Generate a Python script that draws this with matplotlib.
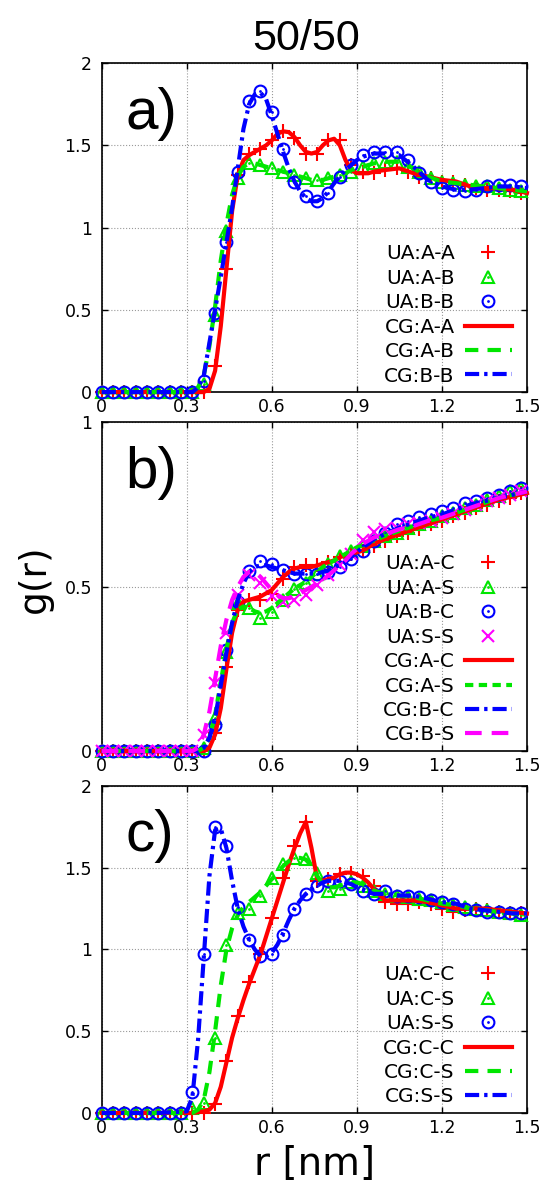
import matplotlib
matplotlib.use('Agg')
import matplotlib.pyplot as plt
from matplotlib.ticker import FuncFormatter, MultipleLocator
from matplotlib.legend_handler import HandlerTuple

plt.rcParams['font.family'] = ['DejaVu Sans']

# sampling of the UA (atomistic) data and of the CG curves
r_ua = [0.00, 0.04, 0.08, 0.12, 0.16, 0.20, 0.24, 0.28, 0.32, 0.36, 0.40, 0.44, 0.48,
        0.52, 0.56, 0.60, 0.64, 0.68, 0.72, 0.76, 0.80, 0.84, 0.88, 0.92, 0.96, 1.00,
        1.04, 1.08, 1.12, 1.16, 1.20, 1.24, 1.28, 1.32, 1.36, 1.40, 1.44, 1.48]
r_cg = [0.00, 0.10, 0.20, 0.30,
        0.32, 0.34, 0.36, 0.38, 0.40, 0.42, 0.44, 0.46, 0.48, 0.50, 0.52, 0.54, 0.56,
        0.58, 0.60, 0.62, 0.64, 0.66, 0.68, 0.70, 0.72, 0.74, 0.76, 0.78, 0.80, 0.82,
        0.84, 0.86, 0.88, 0.90, 0.92, 0.94, 0.96,
        1.00, 1.05, 1.10, 1.15, 1.20, 1.25, 1.30, 1.35, 1.40, 1.45, 1.50]

# panel a)
ua_aa = [0, 0, 0, 0, 0, 0, 0, 0, 0,
         0.00, 0.16, 0.75, 1.32, 1.45, 1.48, 1.53, 1.585, 1.545, 1.45, 1.45, 1.53, 1.535,
         1.38, 1.34, 1.33, 1.35, 1.36, 1.34, 1.31, 1.30, 1.28, 1.28, 1.26, 1.24, 1.23,
         1.23, 1.22, 1.21]
ua_ab = [0, 0, 0, 0, 0, 0, 0, 0, 0,
         0.05, 0.47, 0.98, 1.30, 1.39, 1.38, 1.36, 1.34, 1.32, 1.30, 1.29, 1.30, 1.32,
         1.34, 1.37, 1.39, 1.40, 1.40, 1.37, 1.34, 1.30, 1.28, 1.27, 1.26, 1.25, 1.25,
         1.24, 1.23, 1.22]
ua_bb = [0, 0, 0, 0, 0, 0, 0, 0, 0,
         0.07, 0.48, 0.91, 1.34, 1.77, 1.83, 1.70, 1.48, 1.28, 1.19, 1.16, 1.21, 1.31,
         1.38, 1.44, 1.46, 1.46, 1.46, 1.41, 1.33, 1.28, 1.24, 1.23, 1.22, 1.23, 1.25,
         1.26, 1.26, 1.25]
cg_aa = [0, 0, 0, 0,
         0.00, 0.00, 0.00, 0.02, 0.13, 0.40, 0.75, 1.10, 1.32, 1.41, 1.44, 1.46, 1.48,
         1.50, 1.53, 1.57, 1.585, 1.58, 1.55, 1.50, 1.46, 1.45, 1.46, 1.50, 1.53, 1.54,
         1.50, 1.41, 1.35, 1.33, 1.33, 1.33, 1.34,
         1.35, 1.36, 1.33, 1.31, 1.29, 1.28, 1.25, 1.24, 1.24, 1.23, 1.21]
cg_ab = [0, 0, 0, 0,
         0.00, 0.03, 0.10, 0.28, 0.52, 0.80, 1.02, 1.20, 1.31, 1.37, 1.39, 1.39, 1.38,
         1.37, 1.36, 1.35, 1.34, 1.33, 1.32, 1.31, 1.30, 1.29, 1.29, 1.29, 1.30, 1.31,
         1.32, 1.33, 1.35, 1.36, 1.37, 1.38, 1.39,
         1.40, 1.40, 1.36, 1.31, 1.28, 1.27, 1.26, 1.25, 1.24, 1.23, 1.22]
cg_bb = [0, 0, 0, 0,
         0.00, 0.03, 0.10, 0.30, 0.50, 0.70, 0.91, 1.12, 1.36, 1.60, 1.75, 1.81, 1.82,
         1.78, 1.68, 1.57, 1.46, 1.36, 1.28, 1.22, 1.18, 1.16, 1.16, 1.18, 1.22, 1.27,
         1.31, 1.35, 1.38, 1.41, 1.43, 1.44, 1.45,
         1.45, 1.44, 1.37, 1.29, 1.25, 1.23, 1.23, 1.24, 1.25, 1.25, 1.24]

# panel b)
ua_ac = [0, 0, 0, 0, 0, 0, 0, 0, 0,
         0.00, 0.055, 0.256, 0.43, 0.459, 0.46, 0.477, 0.525, 0.56, 0.565, 0.565, 0.575,
         0.59, 0.60, 0.61, 0.625, 0.64, 0.653, 0.665, 0.677, 0.69, 0.70, 0.715, 0.725,
         0.74, 0.75, 0.76, 0.77, 0.785]
ua_as = [0, 0, 0, 0, 0, 0, 0, 0, 0,
         0.01, 0.10, 0.30, 0.45, 0.434, 0.405, 0.424, 0.46, 0.494, 0.51, 0.54, 0.57,
         0.593, 0.61, 0.625, 0.64, 0.655, 0.665, 0.68, 0.69, 0.70, 0.715, 0.725, 0.74,
         0.75, 0.765, 0.775, 0.79, 0.80]
ua_bc = [0, 0, 0, 0, 0, 0, 0, 0, 0,
         0.00, 0.08, 0.307, 0.454, 0.548, 0.578, 0.57, 0.55, 0.54, 0.54, 0.54, 0.545,
         0.56, 0.585, 0.61, 0.64, 0.665, 0.69, 0.70, 0.712, 0.722, 0.73, 0.74, 0.755,
         0.76, 0.77, 0.78, 0.79, 0.80]
ua_ss_b = [0, 0, 0, 0, 0, 0, 0, 0, 0,
           0.049, 0.206, 0.36, 0.474, 0.535, 0.51, 0.472, 0.452, 0.46, 0.476, 0.505,
           0.535, 0.565, 0.60, 0.641, 0.667, 0.675, 0.68, 0.69, 0.695, 0.70, 0.71, 0.72,
           0.735, 0.75, 0.76, 0.77, 0.78, 0.79]
cg_ac = [0, 0, 0, 0,
         0.00, 0.00, 0.00, 0.01, 0.05, 0.13, 0.25, 0.36, 0.43, 0.455, 0.46, 0.465, 0.47,
         0.48, 0.49, 0.51, 0.53, 0.545, 0.555, 0.56, 0.56, 0.56, 0.565, 0.57, 0.575, 0.58,
         0.59, 0.595, 0.60, 0.605, 0.61, 0.62, 0.63,
         0.645, 0.66, 0.675, 0.69, 0.705, 0.72, 0.735, 0.75, 0.765, 0.775, 0.785]
cg_as = [0, 0, 0, 0,
         0.00, 0.00, 0.01, 0.04, 0.11, 0.21, 0.31, 0.39, 0.43, 0.44, 0.435, 0.425, 0.42,
         0.425, 0.435, 0.45, 0.465, 0.48, 0.495, 0.505, 0.515, 0.53, 0.545, 0.56, 0.57,
         0.58, 0.59, 0.60, 0.61, 0.62, 0.625, 0.635, 0.64,
         0.655, 0.67, 0.685, 0.70, 0.71, 0.725, 0.74, 0.755, 0.77, 0.78, 0.79]
cg_bc = [0, 0, 0, 0,
         0.00, 0.00, 0.01, 0.04, 0.10, 0.20, 0.30, 0.39, 0.46, 0.51, 0.545, 0.56, 0.565,
         0.565, 0.56, 0.555, 0.55, 0.545, 0.54, 0.54, 0.54, 0.54, 0.54, 0.545, 0.55, 0.56,
         0.565, 0.575, 0.59, 0.605, 0.62, 0.63, 0.645,
         0.66, 0.68, 0.695, 0.71, 0.72, 0.735, 0.75, 0.76, 0.77, 0.78, 0.79]
cg_bs = [0, 0, 0, 0,
         0.00, 0.01, 0.05, 0.12, 0.22, 0.32, 0.40, 0.46, 0.50, 0.53, 0.545, 0.545, 0.53,
         0.51, 0.49, 0.475, 0.465, 0.465, 0.47, 0.48, 0.49, 0.50, 0.51, 0.52, 0.535, 0.55,
         0.565, 0.58, 0.60, 0.615, 0.63, 0.64, 0.65,
         0.66, 0.675, 0.685, 0.70, 0.71, 0.725, 0.74, 0.755, 0.77, 0.78, 0.79]

# panel c)
ua_cc = [0, 0, 0, 0, 0, 0, 0, 0,
         0.00, 0.00, 0.057, 0.315, 0.593, 0.80, 0.975, 1.19, 1.44, 1.63, 1.78, 1.42, 1.43,
         1.46, 1.47, 1.45, 1.39, 1.29, 1.28, 1.28, 1.29, 1.28, 1.25, 1.23, 1.24, 1.25,
         1.24, 1.23, 1.22, 1.22]
ua_cs = [0, 0, 0, 0, 0, 0, 0, 0,
         0.03, 0.06, 0.46, 1.03, 1.22, 1.25, 1.33, 1.44, 1.52, 1.56, 1.555, 1.47, 1.36,
         1.37, 1.41, 1.39, 1.36, 1.34, 1.33, 1.32, 1.31, 1.30, 1.29, 1.27, 1.26, 1.25,
         1.24, 1.23, 1.22, 1.21]
ua_ss_c = [0, 0, 0, 0, 0, 0, 0, 0,
           0.13, 0.97, 1.75, 1.63, 1.26, 1.06, 0.96, 0.975, 1.09, 1.25, 1.34, 1.39, 1.42,
           1.42, 1.40, 1.36, 1.34, 1.36, 1.33, 1.33, 1.32, 1.30, 1.29, 1.28, 1.25, 1.24,
           1.23, 1.23, 1.22, 1.22]
cg_cc = [0, 0, 0, 0,
         0.00, 0.005, 0.01, 0.02, 0.06, 0.16, 0.31, 0.46, 0.58, 0.69, 0.79, 0.88, 0.97,
         1.08, 1.19, 1.30, 1.41, 1.52, 1.62, 1.71, 1.78, 1.62, 1.43, 1.42, 1.43, 1.44,
         1.46, 1.47, 1.47, 1.46, 1.44, 1.41, 1.37,
         1.30, 1.30, 1.30, 1.29, 1.27, 1.25, 1.25, 1.25, 1.24, 1.23, 1.22]
cg_cs = [0, 0, 0, 0,
         0.00, 0.02, 0.08, 0.25, 0.50, 0.78, 1.00, 1.13, 1.21, 1.26, 1.29, 1.32, 1.35,
         1.39, 1.43, 1.47, 1.51, 1.54, 1.56, 1.56, 1.55, 1.51, 1.45, 1.40, 1.38, 1.38,
         1.39, 1.40, 1.41, 1.41, 1.40, 1.38, 1.36,
         1.34, 1.33, 1.32, 1.30, 1.28, 1.27, 1.25, 1.24, 1.23, 1.22, 1.21]
cg_ss = [0, 0, 0, 0.01,
         0.10, 0.45, 0.95, 1.45, 1.73, 1.74, 1.62, 1.42, 1.25, 1.14, 1.06, 1.00, 0.96,
         0.96, 0.98, 1.03, 1.10, 1.18, 1.25, 1.30, 1.34, 1.37, 1.39, 1.41, 1.42, 1.42,
         1.42, 1.41, 1.40, 1.38, 1.37, 1.35, 1.34,
         1.34, 1.33, 1.33, 1.31, 1.29, 1.28, 1.25, 1.24, 1.23, 1.22, 1.22]

RED, GREEN, BLUE, MAG = '#ff0000', '#00e600', '#0000ff', '#ff00ff'

dash_styles = {
    'solid': None,
    'dash': (3.2, 2.2),
    'short': (2.0, 1.3),
    'dashdot': (3.4, 1.2, 0.8, 1.2),
    'long': (4.0, 2.4),
}

panels = [
    ('a)', 2.0, [0.188, 0.668, 0.786, 0.2786],
     [('UA:A-A', ua_aa, RED, '+'), ('UA:A-B', ua_ab, GREEN, '^'), ('UA:B-B', ua_bb, BLUE, 'o')],
     [('CG:A-A', cg_aa, RED, 'solid'), ('CG:A-B', cg_ab, GREEN, 'dash'),
      ('CG:B-B', cg_bb, BLUE, 'dashdot')]),
    ('b)', 1.0, [0.188, 0.3641, 0.786, 0.2782],
     [('UA:A-C', ua_ac, RED, '+'), ('UA:A-S', ua_as, GREEN, '^'), ('UA:B-C', ua_bc, BLUE, 'o'),
      ('UA:S-S', ua_ss_b, MAG, 'x')],
     [('CG:A-C', cg_ac, RED, 'solid'), ('CG:A-S', cg_as, GREEN, 'short'),
      ('CG:B-C', cg_bc, BLUE, 'dashdot'), ('CG:B-S', cg_bs, MAG, 'long')]),
    ('c)', 2.0, [0.188, 0.0576, 0.786, 0.2769],
     [('UA:C-C', ua_cc, RED, '+'), ('UA:C-S', ua_cs, GREEN, '^'), ('UA:S-S', ua_ss_c, BLUE, 'o')],
     [('CG:C-C', cg_cc, RED, 'solid'), ('CG:C-S', cg_cs, GREEN, 'dash'),
      ('CG:S-S', cg_ss, BLUE, 'dashdot')]),
]

fig = plt.figure(figsize=(5.41, 11.81), dpi=100)
fmt = FuncFormatter(lambda v, p: f'{v:g}')

for tag, ymax, rect, ua_list, cg_list in panels:
    ax = fig.add_axes(rect)
    handles, labels = [], []

    for name, vals, color, marker in ua_list:
        if marker in ('^', 'o'):
            h1, = ax.plot(r_ua, vals, ls='none', marker=marker, ms=8.5, mew=1.5,
                          mfc='none', mec=color, clip_on=False, zorder=3)
            h2, = ax.plot(r_ua, vals, ls='none', marker='o', ms=2, mew=0,
                          color=color, clip_on=False, zorder=3)
            handles.append((h1, h2))
        else:
            h1, = ax.plot(r_ua, vals, ls='none', marker=marker, ms=9.5 if marker == '+' else 8,
                          mew=1.5, color=color, clip_on=False, zorder=3)
            handles.append(h1)
        labels.append(name)

    for name, vals, color, style in cg_list:
        kw = {}
        if dash_styles[style] is not None:
            kw['dashes'] = dash_styles[style]
        h, = ax.plot(r_cg, vals, color=color, lw=3, clip_on=False, zorder=4, **kw)
        handles.append(h)
        labels.append(name)

    ax.set_xlim(0, 1.5)
    ax.set_ylim(0, ymax)
    ax.xaxis.set_major_locator(MultipleLocator(0.3))
    ax.yaxis.set_major_locator(MultipleLocator(0.5))
    ax.xaxis.set_major_formatter(fmt)
    ax.yaxis.set_major_formatter(fmt)
    ax.tick_params(direction='in', top=True, right=True, length=4, width=1,
                   labelsize=12.5, colors='black')
    ax.tick_params(axis='y', pad=7)
    ax.tick_params(axis='x', pad=4)
    ax.grid(True, ls=':', color='#9a9a9a', lw=0.8)
    ax.set_axisbelow(True)
    for sp in ax.spines.values():
        sp.set_linewidth(1.2)

    ax.text(0.055, 0.80, tag, transform=ax.transAxes, ha='left', va='baseline',
            fontsize=42, family=['Liberation Sans', 'DejaVu Sans'])

    ax.legend(handles, labels, loc='lower right', bbox_to_anchor=(0.965, 0.02),
              markerfirst=False, frameon=False, fontsize=14.5, borderpad=0,
              borderaxespad=0, handlelength=2.35, handletextpad=0.5, labelspacing=0.27,
              handler_map={tuple: HandlerTuple(ndivide=1, pad=0)})

    if tag == 'c)':
        ax.set_xlabel('r [nm]', fontsize=28, labelpad=6)

fig.text(0.065, 0.51, 'g(r)', rotation=90, ha='center', va='center', fontsize=27)
fig.text(0.566, 0.9577, '50/50', ha='center', va='baseline', fontsize=31,
         family=['Liberation Sans', 'DejaVu Sans'])

fig.savefig('out.png', dpi=100)
